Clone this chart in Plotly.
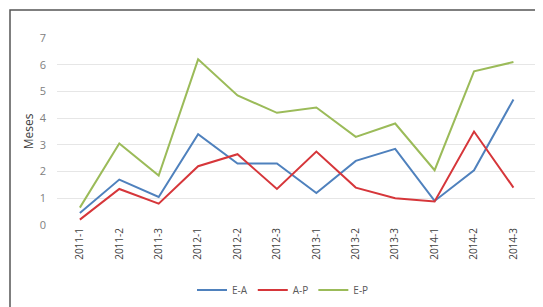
import plotly.graph_objects as go

periods = ["2011-1", "2011-2", "2011-3", "2012-1", "2012-2", "2012-3",
           "2013-1", "2013-2", "2013-3", "2014-1", "2014-2", "2014-3"]
e_a = [0.45, 1.7, 1.05, 3.4, 2.3, 2.3, 1.2, 2.4, 2.85, 0.9, 2.05, 4.7]
a_p = [0.2, 1.35, 0.8, 2.2, 2.65, 1.35, 2.75, 1.4, 1.0, 0.88, 3.5, 1.4]
e_p = [0.65, 3.05, 1.85, 6.2, 4.85, 4.2, 4.4, 3.3, 3.8, 2.05, 5.75, 6.1]

series = [("E-A", e_a, "#4F81BD"), ("A-P", a_p, "#D6363A"), ("E-P", e_p, "#9BBB59")]

fig = go.Figure()
for name, vals, col in series:
    fig.add_trace(go.Scatter(x=periods, y=vals, name=name, mode="lines",
                             line=dict(color=col, width=2)))

OFF = 8  # page body margin in the browser
W, H = 543, 307
L, R, T, B = 57 - OFF, 8, 38 - OFF, H - (225 - OFF)
pw, ph = W - L - R, H - T - B

def px_x(x):
    return (x - OFF - L) / pw

def px_y(y):
    return (H - B - (y - OFF)) / ph

fig.update_layout(
    width=W, height=H,
    margin=dict(l=L, r=R, t=T, b=B, autoexpand=False),
    paper_bgcolor="white", plot_bgcolor="white",
    font=dict(family="Open Sans, Liberation Sans, sans-serif", color="#595959"),
    showlegend=True,
    legend=dict(orientation="h", x=px_x(283), xanchor="center",
                y=px_y(290), yanchor="middle", font=dict(size=10, color="#595959"),
                itemwidth=30, tracegroupgap=0, bgcolor="rgba(0,0,0,0)"),
    xaxis=dict(type="category", range=[-0.58, 11.75], tickangle=-90,
               tickfont=dict(size=10, color="#404040"), showgrid=False,
               showline=False, zeroline=False, ticks="", automargin=False),
    yaxis=dict(range=[0, 7], dtick=1, tick0=0, tickfont=dict(size=11, color="#808080"),
               showgrid=True, gridcolor="#E6E6E6", gridwidth=1, zeroline=False,
               showline=False, ticks="", automargin=False, ticklabelstandoff=10,
               title=dict(text="Meses", font=dict(size=12, color="#404040"), standoff=3)),
    shapes=[dict(type="rect", xref="paper", yref="paper",
                 x0=px_x(10), x1=px_x(570), y0=px_y(10), y1=px_y(340),
                 line=dict(color="#555555", width=1.5), fillcolor="rgba(0,0,0,0)",
                 layer="below")],
)

fig.write_html("out.html")
